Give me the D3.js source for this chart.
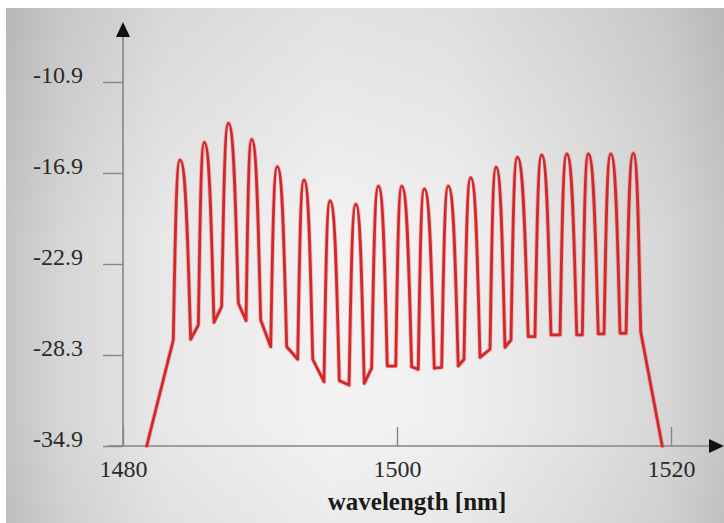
<!DOCTYPE html>
<html><head><meta charset="utf-8">
<script src="https://cdn.jsdelivr.net/npm/d3@7"></script>
<style>html,body{margin:0;padding:0;background:#fff;overflow:hidden}</style>
</head><body>
<svg id="c" width="724" height="523"></svg>
<script>
// ---- data ----
const yTickValues = [-34.9, -28.3, -22.9, -16.9, -10.9];
const xTickValues = [1480, 1500, 1520];
const xTitle = "wavelength [nm]";

const startPoint = [1481.73, -34.9];
const endPoint   = [1519.36, -34.9];

// start of each rise (trough, left side of peak)
const riseWl = [1483.67,1485.50,1487.20,1488.98,1490.78,1492.75,1494.67,1496.50,1498.15,1499.91,
                1501.55,1503.26,1504.89,1506.79,1508.32,1510.07,1511.90,1513.53,1515.11,1516.72];
const riseDb = [-27.41,-26.52,-25.43,-26.26,-27.81,-28.61,-30.24,-30.48,-29.26,-29.10,
                -29.34,-29.19,-28.61,-27.96,-27.41,-27.21,-27.11,-27.11,-27.05,-27.01];
// peaks
const peakWl = [1484.16,1485.93,1487.69,1489.39,1491.26,1493.21,1495.11,1496.99,1498.64,1500.34,
                1501.99,1503.74,1505.38,1507.23,1508.78,1510.56,1512.39,1513.96,1515.60,1517.25];
const peakDb = [-16.04,-14.88,-13.62,-14.68,-16.48,-17.36,-18.73,-18.96,-17.76,-17.76,
                -17.95,-17.76,-17.21,-16.52,-15.86,-15.71,-15.64,-15.64,-15.64,-15.60];
// end of each fall (trough, right side of peak)
const fallWl = [1484.94,1486.64,1488.42,1490.05,1491.95,1493.85,1495.79,1497.61,1499.29,1501.07,
                1502.72,1504.47,1506.06,1507.88,1509.58,1511.24,1513.12,1514.69,1516.28,1517.79];
const fallDb = [-27.37,-26.36,-25.23,-26.22,-27.81,-28.61,-30.16,-30.35,-29.10,-29.15,
                -29.26,-29.10,-28.47,-27.84,-27.21,-27.11,-27.11,-27.05,-27.01,-26.92];

// ---- drawing ----
const W = 724, H = 523;
const svg = d3.select("#c");
const defs = svg.append("defs");

const hg = defs.append("linearGradient").attr("id","bgH")
  .attr("gradientUnits","userSpaceOnUse").attr("x1",6).attr("x2",W).attr("y1",0).attr("y2",0);
[[0,"#c4c4c4"],[0.08,"#d6d6d6"],[0.22,"#e8e8e8"],[0.45,"#f3f3f3"],[0.62,"#f0f0f0"],
 [0.8,"#e2e2e2"],[0.92,"#d6d6d6"],[1,"#c6c6c6"]]
 .forEach(s=>hg.append("stop").attr("offset",s[0]).attr("stop-color",s[1]));
const vg = defs.append("linearGradient").attr("id","bgV")
  .attr("gradientUnits","userSpaceOnUse").attr("x1",0).attr("x2",0).attr("y1",8).attr("y2",H);
[[0,"rgba(0,0,0,0.07)"],[0.45,"rgba(0,0,0,0)"],[0.8,"rgba(0,0,0,0)"],[1,"rgba(0,0,0,0.03)"]]
 .forEach(s=>vg.append("stop").attr("offset",s[0]).attr("stop-color",s[1]));

svg.append("rect").attr("width",W).attr("height",H).attr("fill","#fff");
svg.append("rect").attr("x",6).attr("y",8).attr("width",W-6).attr("height",H-8).attr("fill","url(#bgH)");
svg.append("rect").attr("x",6).attr("y",8).attr("width",W-6).attr("height",H-8).attr("fill","url(#bgV)");

const x = d3.scaleLinear().domain([1480,1520]).range([123,671]);
const y = d3.scaleLinear().domain(yTickValues).range([446,355,264,173,82]);

const axisColor = "#858585";
const font = "'Liberation Serif','Times New Roman',serif";

// y axis ticks & labels
const gy = svg.append("g").attr("transform",`translate(${x(1480)},0)`)
  .call(d3.axisLeft(y).tickValues(yTickValues).tickSize(20).tickFormat(d=>d.toFixed(1)));
gy.select(".domain").remove();
gy.selectAll(".tick line").attr("stroke",axisColor).attr("stroke-width",1.4);
gy.selectAll(".tick text").attr("x",-40).attr("dy","0").attr("fill","#2a2a2a")
  .style("font-family",font).style("font-size","24px");

// x axis ticks & labels
const gx = svg.append("g").attr("transform",`translate(0,${y(-34.9)})`)
  .call(d3.axisBottom(x).tickValues(xTickValues).tickSize(-19).tickFormat(d=>d));
gx.select(".domain").remove();
gx.selectAll(".tick line").attr("stroke",axisColor).attr("stroke-width",1.4);
gx.selectAll(".tick text").attr("y",31).attr("dy","0").attr("fill","#2a2a2a")
  .style("font-family",font).style("font-size","24px");

// axis lines with arrows
const x0 = x(1480), y0 = y(-34.9);
svg.append("line").attr("x1",x0).attr("x2",x0).attr("y1",y0).attr("y2",34)
  .attr("stroke",axisColor).attr("stroke-width",1.6);
svg.append("line").attr("x1",108).attr("x2",712).attr("y1",y0).attr("y2",y0)
  .attr("stroke",axisColor).attr("stroke-width",1.6);
svg.append("path").attr("d",`M${x0},22 L${x0-7},37 L${x0+7},37 Z`).attr("fill","#111");
svg.append("path").attr("d",`M724,${y0} L709,${y0-7} L709,${y0+7} Z`).attr("fill","#111");

// x title
svg.append("text").attr("x",417).attr("y",510).attr("text-anchor","middle")
  .style("font-family",font).style("font-size","25px").style("font-weight","bold")
  .attr("fill","#1a1a1a").text(xTitle);

// custom D3 curve for a spectral peak: trough -> rounded top -> trough
function curvePeak(context){
  const a = 0.25, b = 0.45, c = 0.6;
  let pts;
  return {
    lineStart(){ pts = []; },
    point(px, py){ pts.push([+px, +py]); },
    lineEnd(){
      const [B, P, A] = pts;
      const dx1 = P[0]-B[0], dy1 = P[1]-B[1];
      const dx2 = A[0]-P[0], dy2 = P[1]-A[1];
      context.moveTo(B[0], B[1]);
      context.bezierCurveTo(B[0]+a*dx1, B[1]+b*dy1, P[0]-c*dx1, P[1], P[0], P[1]);
      context.bezierCurveTo(P[0]+c*dx2, P[1], A[0]-a*dx2, A[1]+b*dy2, A[0], A[1]);
    }
  };
}

// spectrum curve
const lin = d3.line().x(d=>x(d[0])).y(d=>y(d[1]));
const peakLine = d3.line().x(d=>x(d[0])).y(d=>y(d[1])).curve(curvePeak);
const n = peakWl.length;
let dStr = lin([startPoint,[riseWl[0],riseDb[0]]]);
for (let i=0;i<n;i++){
  dStr += peakLine([[riseWl[i],riseDb[i]],[peakWl[i],peakDb[i]],[fallWl[i],fallDb[i]]]);
  if (i<n-1) dStr += lin([[fallWl[i],fallDb[i]],[riseWl[i+1],riseDb[i+1]]]);
}
dStr += lin([[fallWl[n-1],fallDb[n-1]],endPoint]);

svg.append("path").attr("d",dStr).attr("fill","none")
  .attr("stroke","rgba(230,90,90,0.35)").attr("stroke-width",4.6)
  .attr("stroke-linecap","round").attr("stroke-linejoin","round");
svg.append("path").attr("d",dStr).attr("fill","none")
  .attr("stroke","#d3282a").attr("stroke-width",2.8)
  .attr("stroke-linecap","round").attr("stroke-linejoin","round");
</script>
</body></html>
